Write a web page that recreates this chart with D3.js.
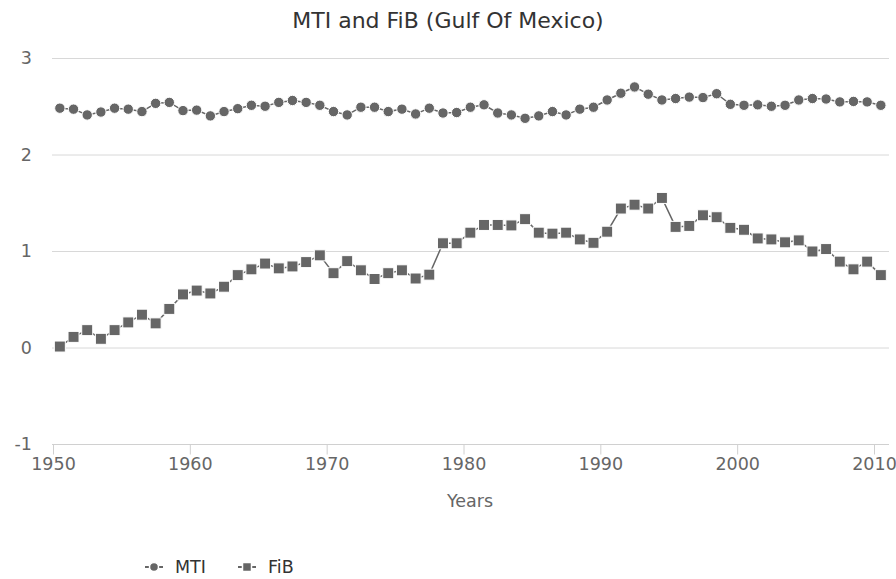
<!DOCTYPE html>
<html>
<head>
<meta charset="utf-8">
<script src="https://cdn.jsdelivr.net/npm/d3@7"></script>
<style>
  body { margin: 0; background: #fff; }
  text { font-family: "DejaVu Sans", sans-serif; }
</style>
</head>
<body>
<svg class="chart" width="896" height="579"></svg>
<script>
var startYear = 1950;
var mti = [2.48, 2.47, 2.41, 2.44, 2.48, 2.47, 2.445, 2.53, 2.54, 2.455,
           2.46, 2.40, 2.445, 2.475, 2.51, 2.50, 2.54, 2.56, 2.54, 2.51,
           2.445, 2.41, 2.49, 2.49, 2.445, 2.47, 2.42, 2.48, 2.43, 2.435,
           2.49, 2.515, 2.43, 2.41, 2.375, 2.40, 2.445, 2.41, 2.47, 2.49,
           2.565, 2.635, 2.70, 2.625, 2.565, 2.58, 2.595, 2.59, 2.63, 2.52,
           2.51, 2.515, 2.50, 2.51, 2.565, 2.58, 2.575, 2.545, 2.55, 2.545,
           2.51];
var fib = [0.01, 0.11, 0.18, 0.09, 0.18, 0.26, 0.34, 0.25, 0.40, 0.55,
           0.59, 0.56, 0.63, 0.75, 0.81, 0.87, 0.82, 0.84, 0.885, 0.955,
           0.77, 0.895, 0.80, 0.71, 0.77, 0.80, 0.715, 0.755, 1.08, 1.08,
           1.19, 1.27, 1.27, 1.265, 1.33, 1.19, 1.18, 1.19, 1.12, 1.085,
           1.20, 1.44, 1.48, 1.44, 1.55, 1.25, 1.26, 1.37, 1.35, 1.24,
           1.22, 1.13, 1.12, 1.09, 1.11, 0.995, 1.02, 0.89, 0.81, 0.89,
           0.75];
var yTicks = [-1, 0, 1, 2, 3];
var xTicks = [1950, 1960, 1970, 1980, 1990, 2000, 2010];

var svg = d3.select(".chart");
var ink = "#666666";

var x = d3.scaleLinear().domain([1950, 2010]).range([53, 874]);
var y = d3.scaleLinear().domain([-1, 3]).range([444, 58]);

// title
svg.append("text")
    .attr("x", 448).attr("y", 28)
    .attr("text-anchor", "middle")
    .attr("font-size", 22)
    .attr("fill", "#333")
    .text("MTI and FiB (Gulf Of Mexico)");

// grid
svg.append("g").selectAll("line")
    .data(yTicks.filter(function(d) { return d > -1; }))
  .enter().append("line")
    .attr("x1", 52).attr("x2", 889)
    .attr("y1", function(d) { return y(d) + 0.5; })
    .attr("y2", function(d) { return y(d) + 0.5; })
    .attr("stroke", "#d8d8d8")
    .attr("stroke-width", 1);

svg.append("g").selectAll("text")
    .data(yTicks)
  .enter().append("text")
    .attr("x", 32)
    .attr("y", function(d) { return y(d) + 6; })
    .attr("text-anchor", "end")
    .attr("font-size", 17.5)
    .attr("fill", ink)
    .text(function(d) { return d; });

// x axis
var xAxis = svg.append("g")
    .attr("transform", "translate(0," + (y(-1) + 0.5) + ")")
    .call(d3.axisBottom(x).tickValues(xTicks).tickFormat(d3.format("d")).tickSize(10).tickSizeOuter(0));
xAxis.select(".domain").attr("stroke", "#d0d0d0").attr("d", "M52,0H889");
xAxis.selectAll(".tick line").attr("stroke", "#d0d0d0");
xAxis.selectAll(".tick text")
    .attr("font-family", "DejaVu Sans, sans-serif")
    .attr("font-size", 17.5)
    .attr("fill", ink)
    .attr("y", 13)
    .attr("dy", "0.71em");

svg.append("text")
    .attr("x", 470).attr("y", 507)
    .attr("text-anchor", "middle")
    .attr("font-size", 17.5)
    .attr("fill", ink)
    .text("Years");

var line = d3.line()
    .x(function(d, i) { return x(startYear + i + 0.5); })
    .y(function(d) { return y(d); });

function drawSeries(data, shape) {
  svg.append("path")
      .datum(data)
      .attr("fill", "none")
      .attr("stroke", ink)
      .attr("stroke-width", 1.5)
      .attr("d", line);
  var g = svg.append("g");
  if (shape === "circle") {
    g.selectAll("circle").data(data).enter().append("circle")
        .attr("cx", function(d, i) { return x(startYear + i + 0.5); })
        .attr("cy", function(d) { return y(d); })
        .attr("r", 5.2)
        .attr("fill", ink)
        .attr("stroke", "#fff").attr("stroke-width", 1);
  } else {
    g.selectAll("rect").data(data).enter().append("rect")
        .attr("x", function(d, i) { return x(startYear + i + 0.5) - 5.5; })
        .attr("y", function(d) { return y(d) - 5.5; })
        .attr("width", 11).attr("height", 11)
        .attr("fill", ink)
        .attr("stroke", "#fff").attr("stroke-width", 1);
  }
}
drawSeries(mti, "circle");
drawSeries(fib, "square");

// legend
var legend = [{name: "MTI", shape: "circle", x: 145}, {name: "FiB", shape: "square", x: 238}];
var lg = svg.append("g").attr("transform", "translate(0,567)");
legend.forEach(function(l) {
  lg.append("line")
      .attr("x1", l.x).attr("x2", l.x + 18)
      .attr("stroke", ink).attr("stroke-width", 2);
  if (l.shape === "circle") {
    lg.append("circle").attr("cx", l.x + 9).attr("r", 4.5).attr("fill", ink)
        .attr("stroke", "#fff").attr("stroke-width", 1.5);
  } else {
    lg.append("rect").attr("x", l.x + 4.5).attr("y", -4.5).attr("width", 9).attr("height", 9).attr("fill", ink)
        .attr("stroke", "#fff").attr("stroke-width", 1.5);
  }
  lg.append("text")
      .attr("x", l.x + 30).attr("y", 6)
      .attr("font-size", 17.5)
      .attr("fill", "#333")
      .text(l.name);
});
</script>
</body>
</html>
